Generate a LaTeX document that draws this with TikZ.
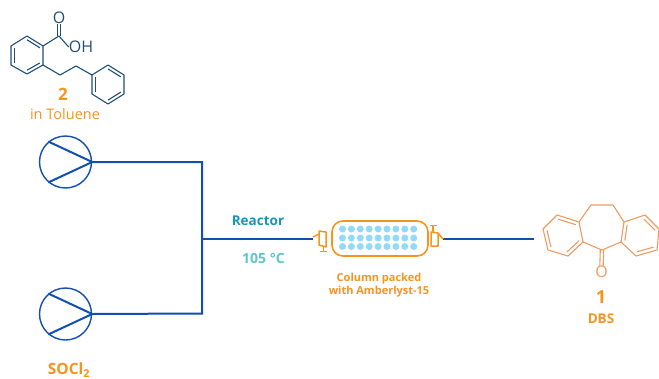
\documentclass[tikz,border=0pt]{standalone}
\usepackage{fontspec}
\setmainfont{Open Sans}
\usetikzlibrary{calc}
\definecolor{linecol}{HTML}{1150AE}
\definecolor{orangecol}{HTML}{F7941D}
\definecolor{molblue}{HTML}{1F4E79}
\definecolor{molorange}{HTML}{EE9B62}
\definecolor{tealcol}{HTML}{1497B5}
\definecolor{tempcol}{HTML}{5FC4D2}
\definecolor{beadcol}{HTML}{93DAF8}
\tikzset{
  % --- flow lines and pumps ---------------------------------------------------
  flow/.style={linecol,line width=2pt},
  pump/.style={circle,draw=linecol,line width=1.4pt,minimum size=52pt,inner sep=0pt},
  vane/.style={linecol,line width=2pt},
  % --- column ------------------------------------------------------------------
  column/.style={rectangle,rounded corners=11pt,draw=orangecol,line width=1.6pt,
                 minimum width=96pt,minimum height=35pt,inner sep=0pt},
  bead/.style={circle,fill=beadcol,minimum size=7pt,inner sep=0pt},
  fitting/.style={orangecol,line width=1.5pt},
  % --- molecules ---------------------------------------------------------------
  bondb/.style={molblue,line width=1.1pt},
  bondo/.style={molorange,line width=1.1pt},
  % --- labels ------------------------------------------------------------------
  lab/.style={inner sep=0pt,align=center,text=orangecol},
  labb/.style={lab,font=\bfseries\fontsize{#1}{#1}\selectfont},
  labn/.style={lab,font=\fontsize{#1}{#1}\selectfont},
}
\begin{document}
\begin{tikzpicture}[x=1pt,y=-1pt]
  \useasboundingbox (0,0) rectangle (659,378);

  % pumps and lines
  \node[pump] (pump1) at (65.5,162) {};
  \node[pump] (pump2) at (65.5,314) {};
  \coordinate (top) at (202,162);
  \coordinate (bot) at (202,313.5);
  \coordinate (mix) at (202,239);
  \coordinate (out) at (534,239);
  \draw[vane] (pump1.130) -- (pump1.east) -- (pump1.230);
  \draw[vane] (pump2.130) -- (pump2.east) -- (pump2.230);
  \draw[flow,line join=miter] (pump1.east) -- (top) -- (bot) -- (pump2.east);

  % column
  \node[column] (col) at (380,238.5) {};
  \coordinate (colL) at (313,239);
  \coordinate (colR) at (443,239);
  \draw[flow] (mix) -- (colL);
  \draw[flow] (colR) -- (out);
  \foreach \i in {0,...,8}
    \foreach \j in {229,238,246.5}
      \node[bead] (b\i-\j) at (342.5+8.9*\i,\j) {};
  \draw[fitting,fill=white,line join=round] (313,237) -- (319,234) -- (319,245) -- (326,247) -- (326,232) -- (319,231) -- (319,234);
  \draw[fitting] (323.5,246) -- (323.5,251) (320,251.5) -- (327,251.5);
  \draw[fitting,fill=white,line join=round] (443,239) -- (438,233) -- (431,232) -- (431,246) -- (438,246) -- (438,233);
  \draw[fitting] (433,232) -- (433,226) (430,225.5) -- (437,225.5);

  % molecule 2
  \foreach \n/\x/\y in {p1/27/36,p2/43/46,p3/43,p4/27/74,p5/11/65,p6/11/46}{}
  \coordinate (a1) at (27,36);
  \coordinate (a2) at (43,46);
  \coordinate (a3) at (43,65);
  \coordinate (a4) at (27,74);
  \coordinate (a5) at (11,65);
  \coordinate (a6) at (11,46);
  \coordinate (ac) at (27,55);
  \coordinate (c1) at (59,36);
  \coordinate (c2) at (60,75);
  \coordinate (c3) at (76,66);
  \coordinate (d1) at (92,75);
  \coordinate (d2) at (108,65);
  \coordinate (d3) at (124,75);
  \coordinate (d4) at (124,94);
  \coordinate (d5) at (108,104);
  \coordinate (d6) at (92,94);
  \coordinate (dc) at (108,84.5);
  \node[text=molblue,inner sep=0pt,font=\fontsize{16}{16}\selectfont] (oxa) at (59,17.5) {O};
  \node[text=molblue,inner sep=0pt,font=\fontsize{16}{16}\selectfont] (oh) at (81,47) {OH};
  \draw[bondb,line join=round] (a1) -- (a2) -- (a3) -- (a4) -- (a5) -- (a6) -- cycle;
  \draw[bondb,line join=round] (d1) -- (d2) -- (d3) -- (d4) -- (d5) -- (d6) -- cycle;
  \draw[bondb,line join=round] (a2) -- (c1) -- (oh.west);
  \draw[bondb,line join=round] (a3) -- (c2) -- (c3) -- (d1);
  \draw[bondb] ($(c1)+(-1.7,0)$) -- ($(oxa.south)+(-1.7,0)$);
  \draw[bondb] ($(c1)+(1.7,0)$) -- ($(oxa.south)+(1.7,0)$);
  \foreach \p/\q in {a1/a2,a3/a4,a5/a6}
    \draw[bondb] ($(\p)!.2!(ac)$) -- ($(\q)!.2!(ac)$);
  \foreach \p/\q in {d1/d6,d2/d3,d4/d5}
    \draw[bondb] ($(\p)!.2!(dc)$) -- ($(\q)!.2!(dc)$);

  % molecule 1
  \coordinate (e1) at (591,205);
  \coordinate (e2) at (613,205);
  \coordinate (f1) at (579,222);
  \coordinate (f2) at (557,215);
  \coordinate (f3) at (543,229);
  \coordinate (f4) at (548,250);
  \coordinate (f5) at (568,256);
  \coordinate (f6) at (583,242);
  \coordinate (fc) at (563,235.5);
  \coordinate (g1) at (624,222);
  \coordinate (g2) at (645,215);
  \coordinate (g3) at (659,229);
  \coordinate (g4) at (657,250);
  \coordinate (g5) at (636,256);
  \coordinate (g6) at (621,242);
  \coordinate (gc) at (640,235.5);
  \coordinate (k) at (602,250);
  \node[text=molorange,inner sep=0pt,font=\fontsize{16}{16}\selectfont] (oxb) at (601.5,272) {O};
  \draw[bondo,line join=round] (f1) -- (f2) -- (f3) -- (f4) -- (f5) -- (f6) -- cycle;
  \draw[bondo,line join=round] (g1) -- (g2) -- (g3) -- (g4) -- (g5) -- (g6) -- cycle;
  \draw[bondo,line join=round] (f1) -- (e1) -- (e2) -- (g1);
  \draw[bondo,line join=round] (f6) -- (k) -- (g6);
  \draw[bondo] ($(k)+(-1.7,0)$) -- ($(oxb.north)+(-1.7,0)$);
  \draw[bondo] ($(k)+(1.7,0)$) -- ($(oxb.north)+(1.7,0)$);
  \foreach \p/\q in {f1/f2,f3/f4,f5/f6}
    \draw[bondo] ($(\p)!.2!(fc)$) -- ($(\q)!.2!(fc)$);
  \foreach \p/\q in {g1/g6,g2/g3,g4/g5}
    \draw[bondo] ($(\p)!.2!(gc)$) -- ($(\q)!.2!(gc)$);

  % labels
  \node[labb=17] (l2) at (63,94) {2};
  \node[labn=14.5] (ltol) at (65,114) {in Toluene};
  \node[labb=13.5,text=tealcol] (lreac) at (258,221) {Reactor};
  \node[labb=14,text=tempcol] (ltemp) at (263.5,258) {105 °C};
  \node[labb=11] (lcol) at (379,285.5) {Column packed\\[2pt]with Amberlyst-15};
  \node[labb=18] (l1) at (601,297.5) {1};
  \node[labb=13.5] (ldbs) at (601,319) {DBS};
  \node[labb=15.5] (lsocl) at (69,370) {SOCl\textsubscript{2}};
\end{tikzpicture}
\end{document}
